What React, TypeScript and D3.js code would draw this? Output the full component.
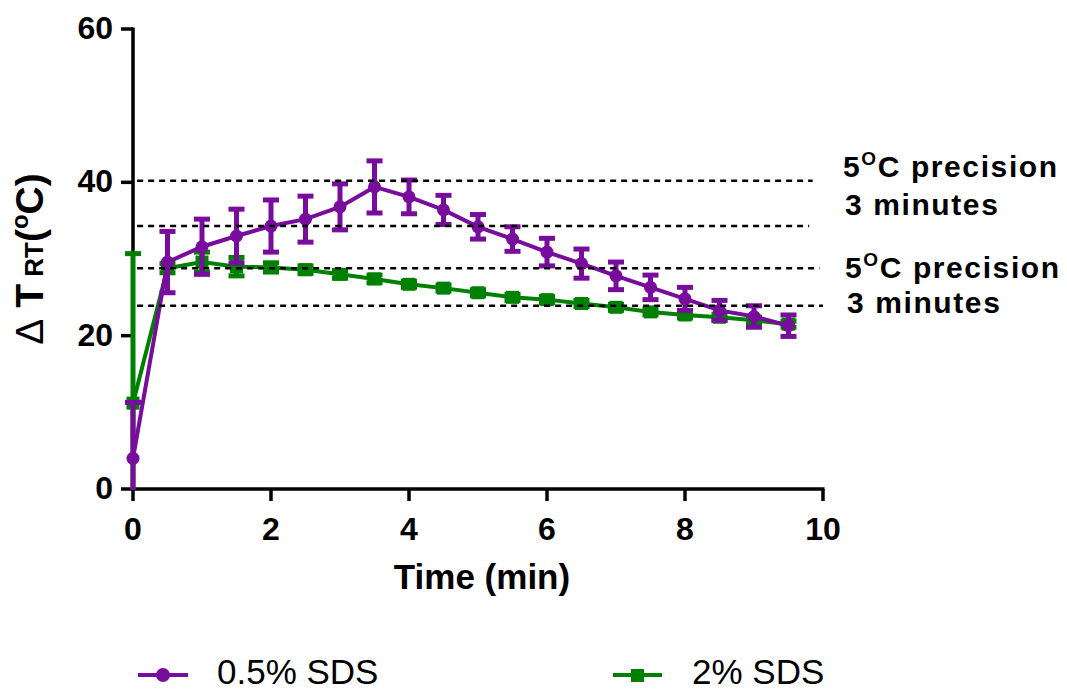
import React from "react";
import * as d3 from "d3";

const timeMin = [0, 0.5, 1, 1.5, 2, 2.5, 3, 3.5, 4, 4.5, 5, 5.5, 6, 6.5, 7, 7.5, 8, 8.5, 9, 9.5];
const sds05Mean = [4.0, 29.6, 31.6, 33.0, 34.3, 35.2, 36.8, 39.4, 38.1, 36.4, 34.2, 32.6, 30.9, 29.4, 27.8, 26.3, 24.8, 23.3, 22.5, 21.3];
const sds05Err = [7.3, 4.0, 3.6, 3.5, 3.4, 3.0, 3.0, 3.4, 2.2, 1.9, 1.6, 1.6, 1.8, 1.9, 1.8, 1.6, 1.5, 1.3, 1.4, 1.4];
const sds2Mean = [11.2, 28.8, 29.6, 29.0, 28.9, 28.6, 28.0, 27.4, 26.7, 26.2, 25.6, 25.0, 24.7, 24.2, 23.7, 23.1, 22.7, 22.4, 22.0, 21.5];
const sds2Err = [19.5, 0.6, 1.3, 1.2, 0.6, 0.5, 0.5, 0.5, 0.4, 0.4, 0.4, 0.4, 0.4, 0.4, 0.4, 0.4, 0.4, 0.4, 0.4, 0.4];

const xTicks = [0, 2, 4, 6, 8, 10];
const yTicks = [0, 20, 40, 60];

const refLineValues = [40.2, 34.3, 28.8, 23.9];
const refLineEnds = [9.85, 9.8, 9.95, 10.0];

const seriesNames = ["0.5% SDS", "2% SDS"];
const PURPLE = "#780c9c";
const GREEN = "#008000";
const FONT = "'Liberation Sans', Arial, Helvetica, sans-serif";

export default function App() {
  const W = 1067, H = 692;
  const x = d3.scaleLinear().domain([0, 10]).range([133, 823]);
  const y = d3.scaleLinear().domain([0, 60]).range([489, 29]);

  const line = d3.line<number>().x((_, i) => x(timeMin[i])).y((d) => y(d));

  const errBars = (means: number[], errs: number[], color: string) =>
    means.map((m, i) => {
      const cx = x(timeMin[i]);
      const y1 = y(m + errs[i]);
      const y2 = y(m - errs[i]);
      return (
        <g key={i} stroke={color} strokeWidth={5}>
          <line x1={cx} x2={cx} y1={y1} y2={y2} />
          <line x1={cx - 8} x2={cx + 8} y1={y1} y2={y1} />
          <line x1={cx - 8} x2={cx + 8} y1={y2} y2={y2} />
        </g>
      );
    });

  return (
    <svg width={W} height={H} style={{ position: "absolute", left: 0, top: 0 }} fontFamily={FONT}>
      <rect width={W} height={H} fill="#fff" />
      <defs>
        <clipPath id="plotClip">
          <rect x={100} y={0} width={760} height={y(0) + 1} />
        </clipPath>
      </defs>

      {/* axes */}
      <g stroke="#000" strokeWidth={3.5} fill="none">
        <line x1={x(0)} x2={x(0)} y1={y(60) - 1.5} y2={y(0) + 1.5} />
        <line x1={x(0) - 1.5} x2={x(10) + 1.5} y1={y(0)} y2={y(0)} />
        {yTicks.map((t) => (
          <line key={"yt" + t} x1={x(0) - 12} x2={x(0)} y1={y(t)} y2={y(t)} />
        ))}
        {xTicks.map((t) => (
          <line key={"xt" + t} x1={x(t)} x2={x(t)} y1={y(0)} y2={y(0) + 12} />
        ))}
      </g>

      {/* data */}
      <g clipPath="url(#plotClip)">
        {/* 2% SDS */}
        <path d={line(sds2Mean) || ""} fill="none" stroke={GREEN} strokeWidth={4} />
        {errBars(sds2Mean, sds2Err, GREEN)}
        {sds2Mean.map((m, i) => (
          <rect key={i} x={x(timeMin[i]) - 6.5} y={y(m) - 6.5} width={13} height={13} fill={GREEN} />
        ))}
        {/* 0.5% SDS */}
        <path d={line(sds05Mean) || ""} fill="none" stroke={PURPLE} strokeWidth={4} />
        {errBars(sds05Mean, sds05Err, PURPLE)}
        {sds05Mean.map((m, i) => (
          <circle key={i} cx={x(timeMin[i])} cy={y(m)} r={6.5} fill={PURPLE} />
        ))}
      </g>

      {/* dashed reference lines */}
      {refLineValues.map((v, i) => (
        <line key={i} x1={x(0.06)} x2={x(refLineEnds[i])} y1={y(v)} y2={y(v)}
          stroke="#000" strokeWidth={2.6} strokeDasharray="6 5" />
      ))}

      {yTicks.map((t) => (
        <text key={"yl" + t} x={113} y={y(t) + 10} textAnchor="end" fontSize={32} fontWeight="bold">
          {t}
        </text>
      ))}
      {xTicks.map((t) => (
        <text key={"xl" + t} x={x(t)} y={540} textAnchor="middle" fontSize={32} fontWeight="bold">
          {t}
        </text>
      ))}

      {/* axis titles */}
      <text x={482} y={589} textAnchor="middle" fontSize={35} fontWeight="bold">Time (min)</text>
      <text transform={`translate(43,259) rotate(-90)`} textAnchor="middle" fontSize={39}>
        <tspan>Δ</tspan>
        <tspan fontWeight="bold"> T</tspan>
        <tspan fontWeight="bold" fontSize={26}> RT</tspan>
        <tspan fontWeight="bold">(</tspan>
        <tspan fontWeight="bold" fontSize={24} dy={-15}>o</tspan>
        <tspan fontWeight="bold" dy={15}>C)</tspan>
      </text>

      {/* annotations */}
      {[
        { xx: 843, y1: 177, y2: 215 },
        { xx: 845, y1: 278, y2: 313 },
      ].map((a, i) => (
        <g key={"ann" + i} fontSize={30} fontWeight="bold" letterSpacing={1.6}>
          <text x={a.xx} y={a.y1}>
            <tspan>5</tspan>
            <tspan fontSize={19} dy={-12}>O</tspan>
            <tspan dy={12}>C precision</tspan>
          </text>
          <text x={a.xx + 2} y={a.y2}>3 minutes</text>
        </g>
      ))}

      {/* legend */}
      <g>
        <line x1={138} x2={188} y1={675} y2={675} stroke={PURPLE} strokeWidth={4} />
        <circle cx={163} cy={675} r={7} fill={PURPLE} />
        <text x={217} y={684} fontSize={35}>{seriesNames[0]}</text>
        <line x1={613} x2={662} y1={675} y2={675} stroke={GREEN} strokeWidth={4} />
        <rect x={631} y={669} width={13} height={13} fill={GREEN} />
        <text x={692} y={684} fontSize={35}>{seriesNames[1]}</text>
      </g>
    </svg>
  );
}
